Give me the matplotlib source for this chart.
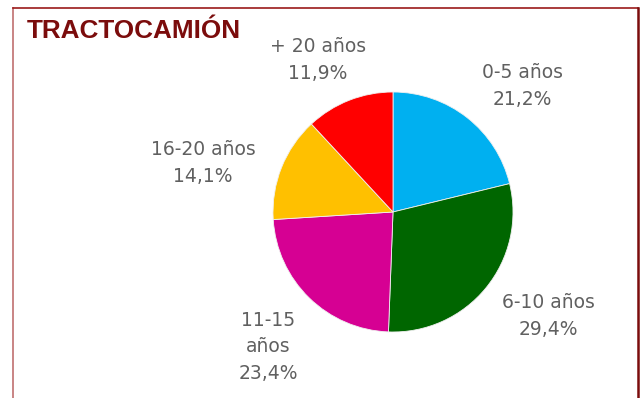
import matplotlib.pyplot as plt
from matplotlib.lines import Line2D

categories = ["0-5 años", "6-10 años", "11-15\naños", "16-20 años", "+ 20 años"]
shares = [21.2, 29.4, 23.4, 14.1, 11.9]
colors = ["#00b0f0", "#006600", "#d60093", "#ffc000", "#ff0000"]

# label anchor points (figure pixels, y measured from top)
label_pos = [(522, 86), (548, 316), (268, 347), (203, 163), (318, 60)]

W, H = 641, 398
fig = plt.figure(figsize=(W / 100, H / 100), dpi=100)
ax = fig.add_axes([0, 0, 1, 1])

ax.pie(shares, colors=colors, startangle=90, counterclock=False,
       center=(393, H - 212), radius=120, frame=True,
       wedgeprops=dict(linewidth=0.6, edgecolor="#f0f0f0"))
ax.set_xlim(0, W)
ax.set_ylim(0, H)
ax.set_aspect("equal")
ax.axis("off")

for name, val, (x, y) in zip(categories, shares, label_pos):
    txt = f"{name}\n{val:.1f}%".replace(".", ",")
    ax.text(x, H - y, txt, ha="center", va="center", fontsize=13.5,
            color="#606060", family="DejaVu Sans", linespacing=1.5)

ax.text(27, H - 31, "TRACTOCAMIÓN", ha="left", va="center", fontsize=18.8,
        fontweight="bold", color="#7b0c0c", family="Liberation Sans")

# frame around the chart
ax.add_line(Line2D([13, 13], [0, H - 8], color="#c07070", lw=1.2))
ax.add_line(Line2D([13, 638], [H - 8, H - 8], color="#9b1a1a", lw=1.2))
ax.add_line(Line2D([638, 638], [0, H - 8], color="#7b0c0c", lw=1.8))

fig.savefig("out.png", dpi=100)
